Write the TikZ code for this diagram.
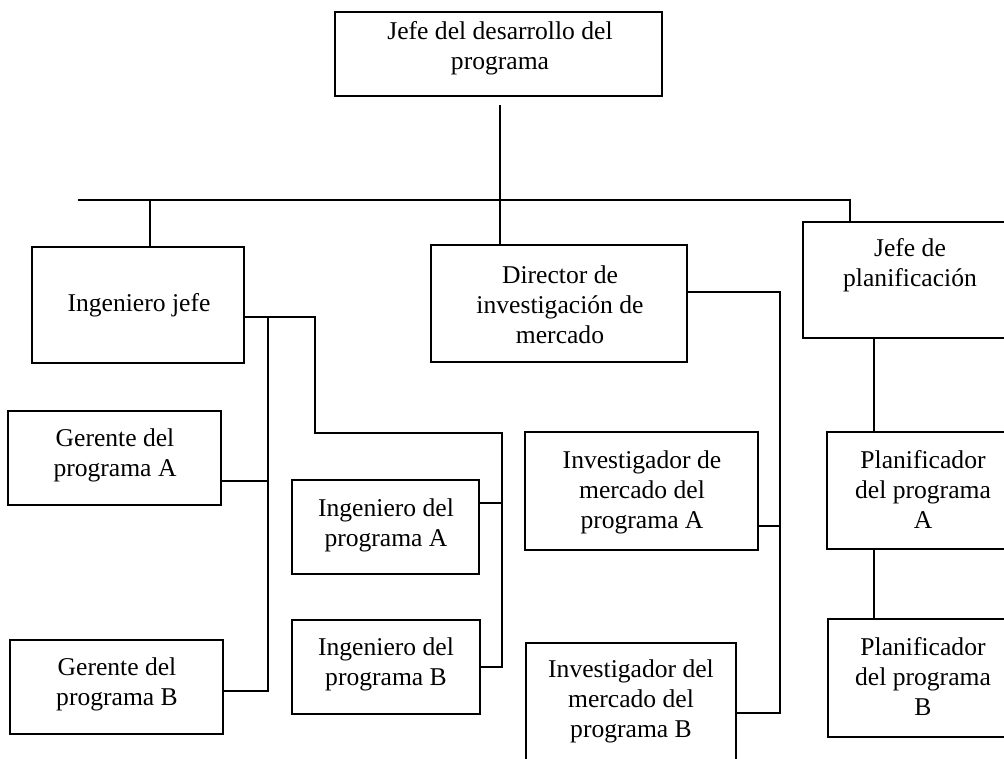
\documentclass[tikz,border=0pt]{standalone}
\usepackage{fontspec}
\setmainfont{Liberation Serif}
\usetikzlibrary{fit}
\begin{document}
\begin{tikzpicture}[x=1pt,y=-1pt,
  orgbox/.style={draw, line width=2pt, inner sep=0pt},
  lbl/.style={align=center, inner sep=0pt, font=\fontsize{25.6pt}{30pt}\selectfont, anchor=base},
  wire/.style={line width=2pt}]
\useasboundingbox (0,0) rectangle (1004,759);
\clip (0,0) rectangle (1004,759);

% boxes
\node[orgbox, fit={(335,12) (662,96)}] (top) {};
\node[orgbox, fit={(32,247) (244,363)}] (ij) {};
\node[orgbox, fit={(431,245) (687,362)}] (dir) {};
\node[orgbox, fit={(803,222) (1018,338)}] (jp) {};
\node[orgbox, fit={(8,411) (221,505)}] (gA) {};
\node[orgbox, fit={(10,640) (223,734)}] (gB) {};
\node[orgbox, fit={(292,480) (479,574)}] (ingA) {};
\node[orgbox, fit={(292,620) (480,714)}] (ingB) {};
\node[orgbox, fit={(525,432) (758,550)}] (invA) {};
\node[orgbox, fit={(526,643) (736,775)}] (invB) {};
\node[orgbox, fit={(827,432) (1019,549)}] (plA) {};
\node[orgbox, fit={(828,619) (1019,737)}] (plB) {};

% labels (anchored at the baseline of their last line)
\node[lbl] (top-t) at (500,70) {Jefe del desarrollo del\\programa};
\node[lbl] (ij-t) at (139,312) {Ingeniero jefe};
\node[lbl] (dir-t) at (560,344) {Director de\\investigación de\\mercado};
\node[lbl] (jp-t) at (910,287) {Jefe de\\planificación};
\node[lbl] (gA-t) at (115,476) {Gerente del\\programa A};
\node[lbl] (gB-t) at (117,705) {Gerente del\\programa B};
\node[lbl] (ingA-t) at (386,546) {Ingeniero del\\programa A};
\node[lbl] (ingB-t) at (386,685) {Ingeniero del\\programa B};
\node[lbl] (invA-t) at (642,528) {Investigador de\\mercado del\\programa A};
\node[lbl] (invB-t) at (631,737) {Investigador del\\mercado del\\programa B};
\node[lbl] (plA-t) at (923,528) {Planificador\\del programa\\A};
\node[lbl] (plB-t) at (923,715) {Planificador\\del programa\\B};

% connectors
\coordinate (drop) at (500,105);
\coordinate (busL) at (78,200);
\coordinate (busR) at (850,200);
\coordinate (ijdrop) at (150,200);
\draw[wire] (drop) -- (drop |- dir.north);
\draw[wire] (busL) -- (busR) -- (busR |- jp.north);
\draw[wire] (ijdrop) -- (ijdrop |- ij.north);

\draw[wire] (ij.east |- 0,317) -- (315,317) -- (315,433) -- (502,433) -- (502,667) -- (ingB.east |- 0,667);
\draw[wire] (ingA.east |- 0,503) -- (502,503);
\draw[wire] (268,317) -- (268,691) -- (gB.east |- 0,691);
\draw[wire] (gA.east |- 0,481) -- (268,481);

\draw[wire] (dir.east |- 0,292) -- (780,292) -- (780,713) -- (invB.east |- 0,713);
\draw[wire] (invA.east |- 0,526) -- (780,526);

\draw[wire] (jp.south -| 874,0) -- (plA.north -| 874,0);
\draw[wire] (plA.south -| 874,0) -- (plB.north -| 874,0);
\end{tikzpicture}
\end{document}
